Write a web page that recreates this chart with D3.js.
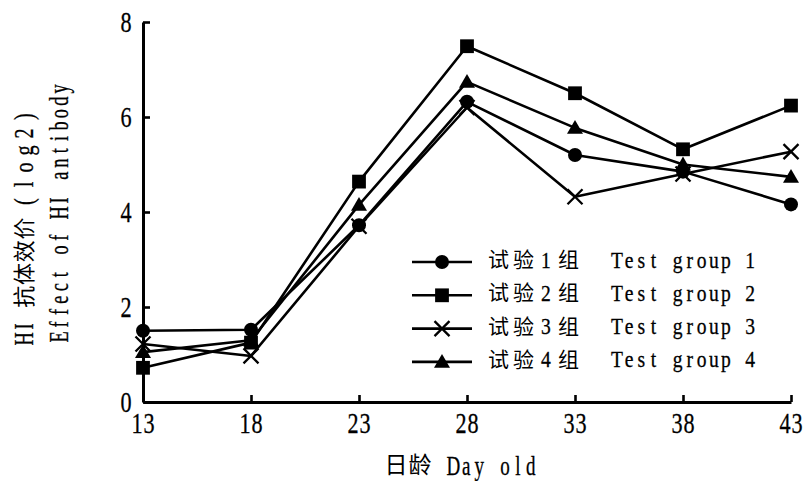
<!DOCTYPE html>
<html><head><meta charset="utf-8">
<script src="https://cdn.jsdelivr.net/npm/d3@7"></script>
<style>html,body{margin:0;padding:0;background:#fff}svg{display:block}</style>
</head><body>
<svg id="chart" width="807" height="481"></svg>
<script>
// ---- data ----
const days = [13, 18, 23, 28, 33, 38, 43];
const group1 = [1.5, 1.52, 3.72, 6.32, 5.2, 4.85, 4.16];
const group2 = [0.72, 1.25, 4.64, 7.49, 6.5, 5.32, 6.24];
const group3 = [1.22, 0.97, 3.7, 6.2, 4.32, 4.8, 5.27];
const group4 = [1.05, 1.3, 4.15, 6.74, 5.77, 5.0, 4.74];
const seriesCN = ["试验 1 组", "试验 2 组", "试验 3 组", "试验 4 组"];
const seriesEN = ["Test group 1", "Test group 2", "Test group 3", "Test group 4"];
const seriesSymbols = ["circle", "square", "cross", "triangle"];
const yTicks = [0, 2, 4, 6, 8];
const xTicks = [13, 18, 23, 28, 33, 38, 43];
const xTitle = "日龄 Day old";
const yTitleCN = "HI 抗体效价";
const yTitleUnit = "(log2)";
const yTitleEN = "Effect of HI antibody";

const series = [group1, group2, group3, group4];

// ---- setup ----
const svg = d3.select("#chart");
const x = d3.scaleLinear().domain([13, 43]).range([143, 791]);
const y = d3.scaleLinear().domain([0, 8]).range([402, 22]);

const SERIF = "'Liberation Serif','DejaVu Serif',serif";
const CJK = "'Noto Sans CJK SC','Noto Sans CJK JP',sans-serif";

function isCJK(ch){ return /[\u2E80-\u9FFF\uFF00-\uFFEF\u3000-\u303F]/.test(ch); }
function splitRuns(str){
  const out = [];
  for (const ch of Array.from(str)) {
    const c = isCJK(ch);
    if (out.length && out[out.length-1].cjk === c) out[out.length-1].t += ch;
    else out.push({t: ch, cjk: c});
  }
  return out.map(r => ({t: r.t.trim(), cjk: r.cjk})).filter(r => r.t.length);
}
function measure(str, cfg){
  const rs = splitRuns(str);
  let w = 0;
  rs.forEach((r,i) => {
    if (i > 0) w += cfg.gap || 0;
    w += Array.from(r.t).length * (r.cjk ? cfg.cjk : cfg.lat).cell;
  });
  return w;
}
function layoutText(parent, str, x0, base, cfg){
  let cx = x0;
  splitRuns(str).forEach((r,i) => {
    if (i > 0) cx += cfg.gap || 0;
    const c = r.cjk ? cfg.cjk : cfg.lat;
    const sx = c.sx || 1;
    const chars = Array.from(r.t);
    const t = parent.append("text")
      .attr("transform", `translate(${cx.toFixed(2)},${(base + (c.dy||0)).toFixed(2)}) scale(${sx},1)`)
      .attr("x", chars.map((ch,j) => ((j+0.5)*c.cell/sx).toFixed(2)).join(" "))
      .attr("text-anchor", "middle")
      .style("font-family", c.family)
      .style("font-size", c.size + "px")
      .style("white-space", "pre")
      .attr("fill", "#000")
      .text(r.t);
    if (c.sw) t.attr("stroke", "#000").attr("stroke-width", c.sw);
    cx += chars.length * c.cell;
  });
}

// ---- axes ----
const axisG = svg.append("g");
axisG.append("g").attr("transform", `translate(${x(13)},0)`)
  .call(d3.axisLeft(y).tickValues(yTicks).tickSizeInner(-7).tickSizeOuter(0).tickFormat(""));
axisG.append("g").attr("transform", `translate(0,${y(0)})`)
  .call(d3.axisBottom(x).tickValues(xTicks).tickSizeInner(-7).tickSizeOuter(0).tickFormat(""));
axisG.selectAll(".domain").attr("stroke", "#000").attr("stroke-width", 3);
axisG.selectAll(".tick line").attr("stroke", "#000").attr("stroke-width", 2.6);

const tickCfg = {gap: 0, lat: {family: SERIF, size: 30, cell: 12, sx: 0.74, sw: 0.3}, cjk: {family: CJK, size: 22, cell: 22}};
const labels = svg.append("g");
xTicks.forEach(d => {
  const s = String(d);
  const w = measure(s, tickCfg);
  layoutText(labels, s, x(d) - w/2, 433, tickCfg);
});
yTicks.forEach(d => {
  const s = String(d);
  const w = measure(s, tickCfg);
  layoutText(labels, s, 132 - w, y(d) + 10, tickCfg);
});

// ---- titles ----
const xTitleCfg = {gap: 15, lat: {family: SERIF, size: 28, cell: 12.9, sx: 0.68, sw: 0.3}, cjk: {family: CJK, size: 23, cell: 24, dy: -2}};
layoutText(svg.append("g"), xTitle, 384, 475, xTitleCfg);

const yt = svg.append("g").attr("transform", "rotate(-90)");
const yCfg1 = {gap: 12, lat: {family: SERIF, size: 27, cell: 12.4, sx: 0.68, sw: 0.3}, cjk: {family: CJK, size: 22, cell: 22.75, dy: -1.5}};
layoutText(yt, yTitleCN, -345, 33, yCfg1);
const yCfg1b = {gap: 0, lat: {family: SERIF, size: 27, cell: 17, sx: 0.75, sw: 0.3}, cjk: yCfg1.cjk};
layoutText(yt, yTitleUnit, -210, 33, yCfg1b);
const yCfg2 = {gap: 12, lat: {family: SERIF, size: 27, cell: 12.4, sx: 0.68, sw: 0.3}, cjk: yCfg1.cjk};
layoutText(yt, yTitleEN, -343, 68, yCfg2);

// ---- symbols ----
function drawSymbol(g, type, cx, cy){
  if (type === "circle") {
    g.append("circle").attr("cx", cx).attr("cy", cy).attr("r", 7).attr("fill", "#000");
  } else if (type === "square") {
    g.append("path").attr("d", d3.symbol(d3.symbolSquare, 190)()).attr("transform", `translate(${cx},${cy})`).attr("fill", "#000");
  } else if (type === "triangle") {
    const s = 16, h = s * Math.sqrt(3) / 2;
    const p = d3.path();
    p.moveTo(cx, cy - h/2 - 1); p.lineTo(cx + s/2, cy + h/2 - 1); p.lineTo(cx - s/2, cy + h/2 - 1); p.closePath();
    g.append("path").attr("d", p.toString()).attr("fill", "#000");
  } else if (type === "cross") {
    const r = 7.5;
    const p = d3.path();
    p.moveTo(cx - r, cy - r); p.lineTo(cx + r, cy + r);
    p.moveTo(cx + r, cy - r); p.lineTo(cx - r, cy + r);
    g.append("path").attr("d", p.toString()).attr("stroke", "#000").attr("stroke-width", 2.3).attr("fill", "none");
  }
}

// ---- lines ----
const line = d3.line().x((d,i) => x(days[i])).y(d => y(d));
const plot = svg.append("g");
series.forEach(vals => {
  plot.append("path").attr("d", line(vals)).attr("fill", "none")
    .attr("stroke", "#000").attr("stroke-width", 2.6).attr("stroke-linejoin", "round");
});
const marks = svg.append("g");
series.forEach((vals, si) => {
  vals.forEach((v, i) => drawSymbol(marks, seriesSymbols[si], x(days[i]), y(v)));
});

// ---- legend ----
const leg = svg.append("g");
const legCN = {gap: 4, lat: {family: SERIF, size: 23, cell: 12, sx: 0.85, dy: 0.5, sw: 0.3}, cjk: {family: CJK, size: 21, cell: 25}};
const legEN = {gap: 0, lat: {family: SERIF, size: 23, cell: 12.1, sx: 0.85, dy: 0.5, sw: 0.3}, cjk: legCN.cjk};
seriesCN.forEach((name, i) => {
  const ry = 262 + i * 33.3;
  leg.append("line").attr("x1", 412).attr("x2", 472).attr("y1", ry).attr("y2", ry)
    .attr("stroke", "#000").attr("stroke-width", 2.6);
  drawSymbol(leg, seriesSymbols[i], 442, ry);
  layoutText(leg, name, 486, ry + 5, legCN);
  layoutText(leg, seriesEN[i], 611, ry + 5, legEN);
});
</script>
</body></html>
